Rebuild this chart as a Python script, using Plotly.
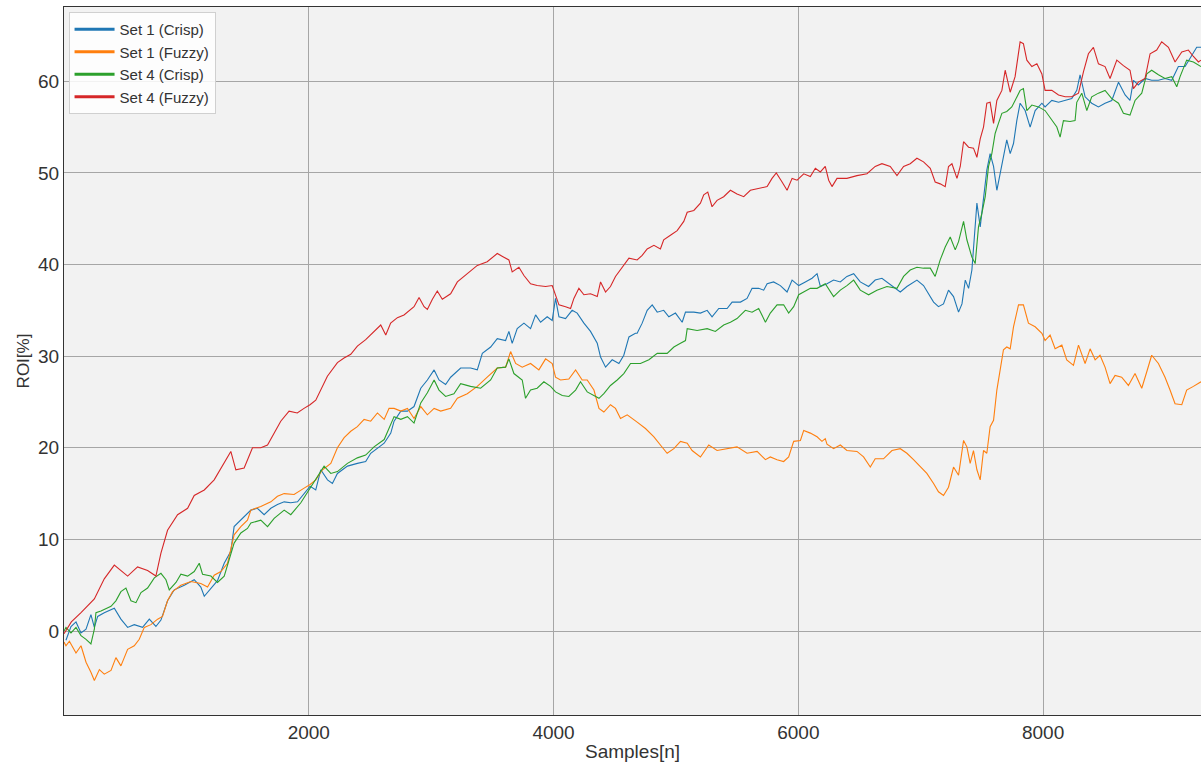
import plotly.graph_objects as go

# ---- data (sample index, ROI %) ----
s1c_x = [16, 57, 98, 139, 180, 220, 248, 275, 329, 411, 465, 520, 574, 642, 697, 751, 792, 846, 901, 983,
         1064, 1118, 1146, 1200, 1254, 1309, 1363, 1390, 1458, 1527, 1580, 1635, 1690, 1744, 1799, 1853, 1908,
         1962, 2011, 2057, 2098, 2153, 2193, 2234, 2316, 2397, 2465, 2506, 2561, 2616, 2670, 2697, 2752, 2806,
         2860, 2888, 2915, 2969, 3024, 3064, 3118, 3159, 3241, 3322, 3377, 3418, 3486, 3540, 3608, 3635, 3662,
         3703, 3758, 3812, 3853, 3894, 3948, 3989, 4016, 4044, 4098, 4152, 4193, 4248, 4302, 4357, 4384, 4425,
         4479, 4534, 4574, 4616, 4669, 4683, 4724, 4765, 4806, 4847, 4900, 4942, 4996, 5051, 5078, 5146, 5200,
         5255, 5295, 5350, 5418, 5459, 5527, 5581, 5622, 5676, 5717, 5745, 5798, 5853, 5908, 5949, 6003, 6057,
         6112, 6153, 6180, 6234, 6288, 6343, 6397, 6452, 6506, 6574, 6628, 6683, 6724, 6765, 6833, 6887, 6969,
         7023, 7064, 7105, 7145, 7186, 7227, 7268, 7309, 7337, 7364, 7391, 7418, 7445, 7459, 7486, 7513, 7540,
         7567, 7595, 7622, 7649, 7676, 7703, 7731, 7758, 7785, 7812, 7853, 7894, 7935, 7990, 8016, 8071, 8126,
         8180, 8234, 8275, 8302, 8343, 8397, 8452, 8506, 8561, 8616, 8670, 8710, 8738, 8778, 8833, 8887, 8942,
         8996, 9051, 9105, 9160, 9214, 9255, 9290]
s1c_y = [-1, 0.5, 1, -0.2, 0.2, 1.8, 0.4, 1.6, 2, 2.5, 1.3, 0.4, 0.7, 0.4, 1.3, 0.5, 1.2, 3.3, 4.5, 5,
         5.6, 4.8, 3.8, 4.7, 5.5, 7.4, 8.7, 11.4, 12.3, 13.2, 13.4, 12.7, 13.4, 13.8, 14.1, 14, 14.1,
         15, 15.8, 15.4, 17.6, 16.5, 16.1, 17.2, 18, 18.3, 18.5, 19.4, 20, 20.5, 21.6, 22.9, 24, 24,
         24.5, 25.6, 26.5, 27.4, 28.5, 27.4, 26.9, 27.7, 28.7, 28.7, 28.5, 30.3, 31, 31.9, 31.7, 32.7, 31.4,
         33, 33.6, 33, 34.5, 33.7, 34.3, 33.9, 36.3, 34.3, 34.1, 35, 34.7, 33.6, 32.7, 31.4, 29.9, 28.8,
         29.6, 29.2, 30.1, 32.1, 32.5, 32.5, 33.6, 35, 35.6, 34.8, 35, 34.3, 34.7, 33.7, 34.8, 34.8, 34.7,
         35, 34.3, 35.2, 35.2, 35.9, 35.9, 36.3, 37.4, 37.4, 37.2, 37.9, 38.1, 37.7, 37, 38.3, 37.7, 38.1,
         38.5, 39, 37.6, 37.9, 38.3, 38.1, 38.7, 39, 38.1, 37.6, 38.3, 38.5, 38.1, 37.6, 37, 37.6, 38.3,
         37.7, 36.8, 35.9, 35.4, 35.7, 37.2, 36.5, 34.8, 35.7, 38.3, 37.4, 39.4, 44.1, 46.7, 44.1, 47.4, 50.3,
         52.1, 50.7, 48.1, 49.9, 52.1, 53.6, 52.1, 53.2, 55.7, 57.6, 56.8, 55, 56.8, 57.6, 57.2, 57.9, 57.7,
         57.9, 58.1, 59, 60.7, 58.3, 57.6, 57.2, 57.6, 57.9, 59.9, 58.5, 57.9, 60.1, 59.6, 60.3, 60.1, 60.1,
         60.3, 60.1, 61.6, 61.6, 62.8, 63.7, 63.7]

s1f_x = [0, 16, 44, 98, 139, 180, 220, 248, 289, 329, 384, 424, 465, 520, 574, 615, 656, 710, 765, 805,
         846, 887, 955, 1037, 1118, 1173, 1227, 1282, 1336, 1390, 1445, 1499, 1527, 1608, 1690, 1744, 1799,
         1880, 1962, 2011, 2057, 2112, 2180, 2234, 2289, 2343, 2397, 2452, 2506, 2561, 2616, 2656, 2697, 2752,
         2806, 2860, 2915, 2969, 3024, 3078, 3159, 3214, 3295, 3377, 3458, 3540, 3608, 3649, 3690, 3744, 3812,
         3880, 3935, 3989, 4016, 4057, 4125, 4180, 4234, 4275, 4330, 4371, 4411, 4465, 4506, 4547, 4602, 4669,
         4683, 4751, 4820, 4873, 4928, 4983, 5037, 5092, 5132, 5200, 5268, 5336, 5418, 5499, 5581, 5663, 5731,
         5771, 5826, 5880, 5921, 5962, 6017, 6044, 6098, 6153, 6193, 6220, 6234, 6288, 6343, 6397, 6479, 6533,
         6588, 6628, 6696, 6765, 6833, 6887, 6941, 6996, 7050, 7105, 7145, 7186, 7227, 7268, 7309, 7350, 7377,
         7404, 7431, 7459, 7486, 7513, 7540, 7567, 7595, 7622, 7649, 7676, 7703, 7731, 7758, 7799, 7839, 7880,
         7935, 7990, 8016, 8057, 8098, 8153, 8193, 8248, 8289, 8343, 8384, 8425, 8465, 8506, 8547, 8588, 8642,
         8697, 8751, 8806, 8847, 8887, 8942, 8996, 9037, 9078, 9133, 9173, 9228, 9290]
s1f_y = [-1.2, -1.6, -1.1, -2.4, -1.6, -3.4, -4.5, -5.4, -4.2, -4.7, -4.3, -2.9, -3.8, -2, -1.6, -0.9, 0.4, 0.7, 1.3, 1.6,
         3.3, 4.3, 5, 5.4, 5.2, 4.8, 6.1, 6.5, 7.4, 10.5, 11.4, 12.1, 13.2, 13.6, 14.1, 14.7, 15,
         14.9, 15.6, 16, 16.5, 17.6, 18.3, 20, 21.1, 21.8, 22.3, 23.1, 22.9, 23.8, 23.1, 24.3, 24.3, 24,
         24.3, 23.2, 24.5, 23.6, 24.3, 24, 24.3, 25.4, 25.9, 26.7, 27.7, 28.7, 28.8, 30.5, 29.2, 28.8, 29.2,
         28.5, 29.7, 29.2, 27.7, 27.4, 27.5, 28.5, 27.4, 27.4, 26.3, 24.3, 23.9, 24.7, 24.3, 23.2, 23.6, 23,
         22.8, 22.1, 21.2, 20.3, 19.4, 19.9, 20.7, 20.5, 19.7, 19, 20.3, 19.7, 19.9, 20.1, 19.4, 19.6, 18.7,
         19, 18.7, 18.5, 19, 20.7, 20.8, 21.9, 21.6, 21.2, 20.7, 21, 20.4, 19.9, 20.3, 19.7, 19.6, 19,
         17.9, 18.8, 18.8, 19.7, 19.9, 19.4, 18.7, 17.9, 17.2, 16.1, 15.2, 14.8, 15.7, 17.9, 17, 20.8, 20.1,
         18.3, 19.7, 17.6, 16.5, 19.7, 19.4, 22.3, 23, 26.3, 28.5, 30.7, 31, 30.8, 33.2, 35.6, 35.6, 33.6,
         33.2, 32.5, 31.7, 32.3, 30.8, 31.2, 29.6, 29, 31.2, 29.2, 30.8, 29.6, 30.1, 28.8, 27, 27.9, 27.7,
         26.8, 28.1, 26.5, 28.3, 30.1, 29.2, 27.7, 26.3, 24.8, 24.7, 26.3, 26.7, 27.2]

s4c_x = [0, 16, 57, 98, 139, 180, 220, 248, 261, 302, 384, 424, 465, 506, 547, 588, 629, 683, 738, 792,
         833, 860, 915, 955, 1010, 1064, 1105, 1132, 1200, 1254, 1309, 1350, 1390, 1445, 1499, 1527, 1608,
         1663, 1717, 1799, 1853, 1935, 2011, 2071, 2125, 2180, 2234, 2316, 2397, 2465, 2533, 2616, 2670, 2697,
         2752, 2806, 2860, 2915, 2969, 3024, 3064, 3118, 3186, 3241, 3322, 3404, 3486, 3540, 3608, 3635, 3676,
         3744, 3771, 3812, 3866, 3921, 3976, 4016, 4071, 4125, 4180, 4220, 4275, 4330, 4371, 4411, 4465, 4520,
         4574, 4629, 4710, 4779, 4847, 4928, 4983, 5037, 5078, 5092, 5173, 5255, 5322, 5390, 5445, 5499, 5567,
         5622, 5676, 5731, 5771, 5826, 5880, 5921, 5962, 6003, 6044, 6098, 6153, 6220, 6288, 6343, 6397, 6452,
         6506, 6574, 6642, 6724, 6806, 6860, 6914, 6969, 7023, 7078, 7118, 7159, 7200, 7241, 7282, 7309, 7350,
         7377, 7418, 7445, 7472, 7500, 7527, 7554, 7581, 7608, 7635, 7663, 7703, 7744, 7771, 7812, 7839, 7867,
         7908, 7962, 8016, 8071, 8112, 8139, 8166, 8220, 8261, 8275, 8316, 8357, 8397, 8452, 8506, 8561, 8616,
         8656, 8710, 8751, 8806, 8847, 8887, 8942, 8996, 9051, 9092, 9119, 9173, 9228, 9290]
s4c_y = [0, 0.4, -0.2, 0.4, -0.5, -0.9, -1.4, 0.2, 2, 2.2, 2.7, 3.3, 4.3, 4.7, 3.3, 3.1, 4.2, 4.7, 5.8, 6.3,
         5.6, 4.5, 5.3, 6.2, 6, 6.5, 7.4, 6.2, 6, 5.3, 6, 7.8, 9.6, 10.7, 11.2, 11.8, 12.1,
         11.4, 12.3, 13.2, 12.7, 14, 15.6, 16.9, 18, 17.2, 17.4, 18.3, 18.9, 19.2, 20.1, 20.9, 22.5, 23.4,
         23.1, 23.4, 22.7, 24.9, 26, 27.4, 26.3, 25.6, 25.9, 27, 26.7, 26.5, 27.4, 28.7, 28.8, 29.7, 28.1,
         27.4, 25.4, 26.3, 26.5, 27.2, 26.7, 26.1, 25.7, 25.6, 26.3, 27.2, 26.1, 25.7, 25.4, 25.9, 26.8, 27.4,
         28.1, 29.2, 29.2, 29.6, 30.3, 30.3, 31, 31.4, 31.7, 33, 32.8, 33, 32.7, 33.4, 33.7, 34.1, 35,
         34.8, 35.2, 33.7, 34.7, 35.6, 35.6, 34.7, 35.4, 36.7, 37, 37.4, 37.4, 37.9, 36.5, 37.2, 37.7, 38.3,
         37.2, 36.7, 37.2, 37.6, 37.4, 38.7, 39.4, 39.7, 39.6, 39.6, 38.7, 40.5, 41.9, 43, 41.6, 42.5, 44.7,
         42.7, 40.8, 40.1, 44.1, 45.6, 47.4, 50.7, 52.1, 54.3, 55.4, 56.5, 56.7, 57.2, 57.9, 59, 59.2, 56.8,
         57.4, 57.2, 56.8, 55.7, 55, 53.9, 55.7, 55.6, 55.7, 57.7, 58.7, 56.8, 58.3, 58.7, 59, 58.1, 57.6,
         56.5, 56.3, 57.9, 58.7, 60.8, 61.2, 60.7, 60.3, 60.5, 59.4, 60.5, 62.3, 62.1, 61.6]

s4f_x = [0, 60, 139, 248, 329, 411, 520, 601, 683, 751, 792, 846, 928, 1010, 1064, 1146, 1227, 1309, 1363,
         1404, 1472, 1540, 1608, 1663, 1717, 1771, 1839, 1906, 1961, 2010, 2057, 2098, 2152, 2234, 2288, 2343,
         2397, 2465, 2533, 2588, 2629, 2669, 2724, 2778, 2860, 2901, 2942, 2969, 3010, 3050, 3091, 3159, 3214,
         3295, 3377, 3458, 3540, 3594, 3635, 3662, 3717, 3758, 3812, 3866, 3935, 3989, 4016, 4044, 4098, 4139,
         4166, 4207, 4248, 4302, 4357, 4384, 4425, 4465, 4506, 4561, 4616, 4683, 4724, 4765, 4820, 4873, 4900,
         4955, 5010, 5064, 5092, 5146, 5200, 5227, 5260, 5295, 5336, 5390, 5445, 5499, 5554, 5608, 5690, 5745,
         5785, 5820, 5867, 5908, 5949, 5990, 6044, 6098, 6139, 6180, 6220, 6248, 6275, 6316, 6397, 6479, 6561,
         6628, 6683, 6751, 6806, 6860, 6914, 6969, 7023, 7078, 7118, 7159, 7200, 7227, 7255, 7296, 7323, 7350,
         7391, 7431, 7459, 7486, 7513, 7540, 7567, 7595, 7622, 7663, 7690, 7731, 7771, 7812, 7839, 7867, 7908,
         7949, 7990, 8016, 8071, 8126, 8180, 8234, 8289, 8329, 8370, 8411, 8452, 8506, 8547, 8602, 8656, 8710,
         8738, 8778, 8833, 8874, 8928, 8969, 9024, 9078, 9133, 9187, 9228, 9269, 9290]
s4f_y = [-0.3, 1, 2, 3.5, 5.7, 7.2, 6, 7, 6.6, 6, 8.5, 11, 12.7, 13.4, 14.8, 15.4, 16.5, 18.3, 19.6,
         17.6, 17.8, 20, 20, 20.3, 21.6, 22.9, 24, 23.8, 24.3, 24.7, 25.2, 26.3, 27.8, 29.3, 29.8, 30.2,
         31.1, 31.8, 32.7, 33.4, 32.3, 33.6, 34.2, 34.5, 35.4, 36.4, 35.4, 35.1, 36.2, 37.1, 36.2, 36.8, 38.1,
         39, 39.9, 40.3, 41.2, 40.8, 40.5, 39.2, 39.7, 38.8, 37.9, 37.7, 37.6, 37.7, 36.7, 35.6, 35.4, 35.2,
         36.3, 37.4, 36.7, 36.8, 36.5, 38.1, 37, 37.6, 38.7, 39.7, 40.7, 40.5, 41, 41.7, 42.1, 41.7, 42.7,
         43.2, 43.7, 44.7, 45.7, 45.9, 46.7, 47.6, 47.9, 46.3, 47, 47.4, 48.1, 47.7, 47.4, 48.1, 48.3, 48.5,
         49.4, 50, 49, 48.1, 49.4, 49.2, 49.9, 49.6, 50.5, 50.1, 50.7, 49.2, 48.5, 49.4, 49.4, 49.7, 49.9,
         50.7, 51, 50.7, 49.7, 50.7, 51, 51.6, 51.2, 50.5, 49, 48.8, 48.5, 50.7, 51, 49.4, 50.7, 53.4,
         52.8, 52.7, 51.7, 53.7, 55, 57.6, 57.7, 55.4, 57.9, 59, 61.2, 58.8, 60.5, 64.3, 64.1, 62.3, 61.6,
         61.9, 60.8, 59, 59, 58.5, 58.3, 58.3, 58.7, 61, 63, 63.7, 61.9, 61.6, 60.3, 62.3, 61.7, 61.2,
         59.2, 59.9, 60.3, 63, 63.4, 64.3, 63.7, 62.1, 63.2, 63.4, 62.7, 62.1, 62.3]

names = ["Set 1 (Crisp)", "Set 1 (Fuzzy)", "Set 4 (Crisp)", "Set 4 (Fuzzy)"]
colors = ["#1f77b4", "#ff7f0e", "#2ca02c", "#d62728"]
xs = [s1c_x, s1f_x, s4c_x, s4f_x]
ys = [s1c_y, s1f_y, s4c_y, s4f_y]

x_ticks = [2000, 4000, 6000, 8000]
y_ticks = [0, 10, 20, 30, 40, 50, 60]

fig = go.Figure()
for x, y, n, c in zip(xs, ys, names, colors):
    fig.add_trace(go.Scatter(x=x, y=y, mode="lines", name=n, showlegend=False,
                             line=dict(color=c, width=1.1)))
# legend entries with thicker line samples
for n, c in zip(names, colors):
    fig.add_trace(go.Scatter(x=[None], y=[None], mode="lines", name=n,
                             line=dict(color=c, width=3)))

font_family = "Liberation Sans, Arial, sans-serif"
fig.update_layout(
    width=1201, height=767,
    margin=dict(l=64, r=0, t=7, b=52),
    paper_bgcolor="white",
    plot_bgcolor="#f2f2f2",
    font=dict(family=font_family, color="#333333"),
    legend=dict(x=0.004, y=0.993, xanchor="left", yanchor="top",
                bgcolor="rgba(255,255,255,0.85)", bordercolor="#d0d0d0", borderwidth=1,
                font=dict(size=15, color="#333333"), itemwidth=40,
                tracegroupgap=2),
    xaxis=dict(range=[0, 9290], tickvals=x_ticks, ticktext=[str(v) for v in x_ticks],
               showgrid=True, gridcolor="#a6a6a6", gridwidth=1,
               showline=True, linecolor="#333333", linewidth=1.2, mirror=True,
               zeroline=False, ticks="", tickfont=dict(size=19, color="#333333"),
               title=dict(text="Samples[n]", font=dict(size=19, color="#333333"), standoff=2),
               automargin=False),
    yaxis=dict(range=[-9.16, 68.1], tickvals=y_ticks, ticktext=[str(v) for v in y_ticks],
               showgrid=True, gridcolor="#a6a6a6", gridwidth=1,
               showline=True, linecolor="#333333", linewidth=1.2, mirror=True,
               zeroline=False, ticks="", tickfont=dict(size=19, color="#333333"),
               title=dict(text="ROI[%]", font=dict(size=17, color="#333333"), standoff=4),
               automargin=False),
)

fig.write_html("out.html", config={"displayModeBar": False},
               post_script="document.body.style.margin='0px';document.body.style.overflow='hidden';")
